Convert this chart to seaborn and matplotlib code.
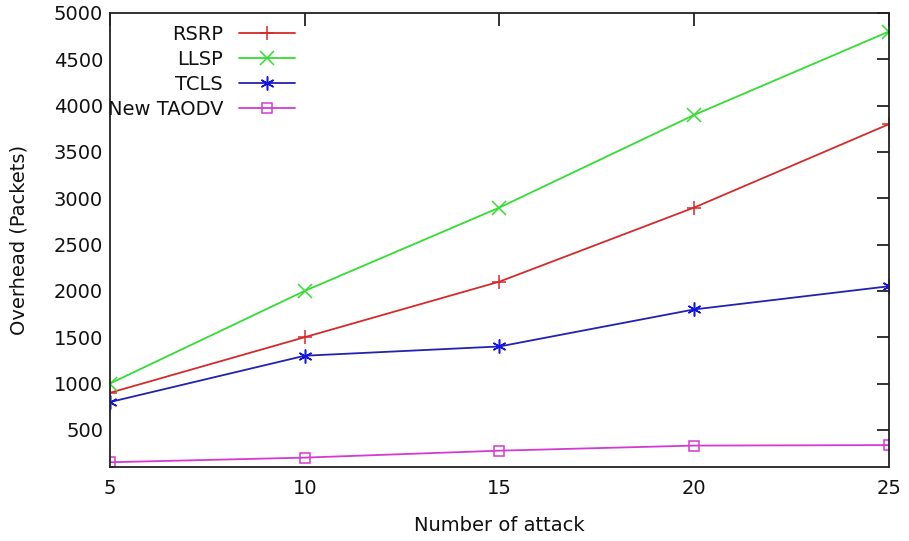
import matplotlib
matplotlib.use("Agg")
import matplotlib.pyplot as plt
import seaborn as sns
import pandas as pd

# Overhead per protocol versus number of attacks
attacks = [5, 10, 15, 20, 25]
rsrp = [900, 1500, 2100, 2900, 3800]
llsp = [1000, 2000, 2900, 3900, 4800]
tcls = [800, 1300, 1400, 1800, 2050]
new_taodv = [150, 200, 275, 330, 335]

protocols = ["RSRP", "LLSP", "TCLS", "New TAODV"]
colors = ["#d42a2a", "#33dd33", "#2222b0", "#d33ad3"]
marker_colors = ["#d42a2a", "#33dd33", "#1515e0", "#d33ad3"]
markers = ["+", "x", (6, 2, 0), "s"]

y_ticks = [500, 1000, 1500, 2000, 2500, 3000, 3500, 4000, 4500, 5000]

sns.set_theme(style="white")
plt.rcParams["font.family"] = ["DejaVu Sans"]
plt.rcParams["text.color"] = "#111111"
plt.rcParams["axes.labelcolor"] = "#111111"

fig = plt.figure(figsize=(9.09, 5.41), dpi=100)
ax = fig.add_axes([0.121, 0.137, 0.857, 0.839])

for name, vals, c, mc, m in zip(protocols, [rsrp, llsp, tcls, new_taodv],
                                colors, marker_colors, markers):
    df = pd.DataFrame({"attack": attacks, "overhead": vals})
    sns.lineplot(
        data=df, x="attack", y="overhead", color=c, marker=m,
        markersize=(7 if m == "s" else 10), markerfacecolor="none",
        markeredgecolor=mc, markeredgewidth=1.1, linewidth=1.3,
        ax=ax, label=name, legend=False,
    )

ax.set_xlim(5, 25)
ax.set_ylim(100, 5000)
ax.set_xticks(attacks)
ax.set_yticks(y_ticks)
ax.tick_params(axis="both", direction="in", length=9, width=1.2,
               top=True, right=True, labelsize=14, colors="#111111", pad=9)
ax.tick_params(axis="y", pad=5)
for s in ax.spines.values():
    s.set_color("#222222")
    s.set_linewidth(1.3)

ax.set_xlabel("Number of attack", fontsize=14, labelpad=13)
ax.set_ylabel("Overhead (Packets)", fontsize=14, labelpad=18)

handles, labels = ax.get_legend_handles_labels()
leg = ax.legend(handles, labels, loc="upper left", bbox_to_anchor=(-0.013, 0.99),
                markerfirst=False, frameon=False, fontsize=14,
                handlelength=2.9, handletextpad=0.8, labelspacing=0.3,
                borderaxespad=0.0)
for t in leg.get_texts():
    t.set_ha("right")
    t.set_position((0, 0))
    t.set_color("#111111")

fig.savefig("out.png", dpi=100)
